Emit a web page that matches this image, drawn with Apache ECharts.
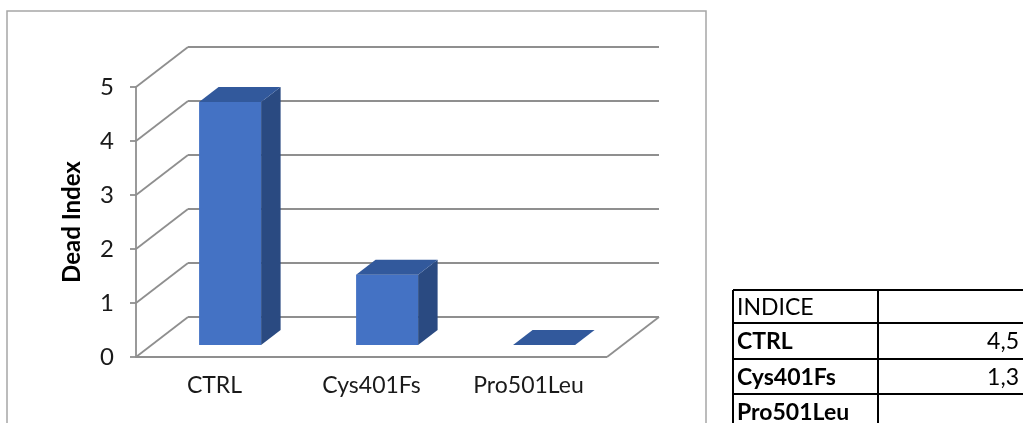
<!DOCTYPE html>
<html>
<head>
<meta charset="utf-8">
<script src="https://cdn.jsdelivr.net/npm/echarts@6/dist/echarts.min.js"></script>
<style>
  html, body { margin: 0; padding: 0; background: #fff; }
  #chart { width: 1023px; height: 423px; }
</style>
</head>
<body>
<div id="chart"></div>
<script>
// Dead Index per variant
const categories = ['CTRL', 'Cys401Fs', 'Pro501Leu'];
const deadIndex = [4.5, 1.3, 0];
const yTicks = [0, 1, 2, 3, 4, 5];
const tableHeader = 'INDICE';
const axisTitle = 'Dead Index';

const FONT = 'Lato, "Open Sans", sans-serif';
const GRID_COLOR = '#8F8F8F';
// oblique depth of the 3D box (pixels)
const DX = 52, DY = -40;
const BAR_FRONT = 0.3, BAR_BACK = 0.675, BAR_WIDTH = 0.395;

const chart = echarts.init(document.getElementById('chart'), null, { renderer: 'canvas' });

function wallItem(params, api) {
  const cs = params.coordSys;
  const left = cs.x, right = cs.x + cs.width;
  const v = api.value(1);
  const y = api.coord([0, v])[1];
  const st = { stroke: GRID_COLOR, lineWidth: 1.8, fill: null };
  const kids = [
    { type: 'line', shape: { x1: left, y1: y, x2: left + DX, y2: y + DY }, style: st },
    { type: 'line', shape: { x1: left + DX, y1: y + DY, x2: right + DX, y2: y + DY }, style: st }
  ];
  if (v === 0) {
    kids.push({ type: 'line', shape: { x1: left, y1: y, x2: right, y2: y }, style: st });
    kids.push({ type: 'line', shape: { x1: right, y1: y, x2: right + DX, y2: y + DY }, style: st });
  }
  return { type: 'group', children: kids };
}

function barItem(params, api) {
  const idx = api.value(0);
  const val = api.value(1);
  const base = api.coord([idx, 0]);
  const top = api.coord([idx, val]);
  const band = api.size([1, 0])[0];
  const w = band * BAR_WIDTH;
  const fx = base[0] - w / 2 + BAR_FRONT * DX;
  const fyB = base[1] + BAR_FRONT * DY;
  const fyT = top[1] + BAR_FRONT * DY;
  const ddx = (BAR_BACK - BAR_FRONT) * DX;
  const ddy = (BAR_BACK - BAR_FRONT) * DY;
  const kids = [];
  if (fyB - fyT > 0.5) {
    kids.push({ type: 'rect', shape: { x: fx, y: fyT, width: w, height: fyB - fyT },
      style: { fill: '#4472C4' } });
    kids.push({ type: 'polygon', shape: { points: [
      [fx + w, fyT], [fx + w + ddx, fyT + ddy], [fx + w + ddx, fyB + ddy], [fx + w, fyB]] },
      style: { fill: '#2A4A81' } });
  }
  kids.push({ type: 'polygon', shape: { points: [
    [fx, fyT], [fx + w, fyT], [fx + w + ddx, fyT + ddy], [fx + ddx, fyT + ddy]] },
    style: { fill: '#32599C' } });
  return { type: 'group', children: kids };
}

// side table
const T_LEFT = 733, T_MID = 878, T_RIGHT = 1060;
const rowTops = [290, 323, 359, 394, 429];
const fmt = v => (v ? String(v).replace('.', ',') : '');
const tableRows = [[tableHeader, '', false]].concat(
  categories.map((c, i) => [c, fmt(deadIndex[i]), true]));
const tableEls = [];
rowTops.forEach(y => tableEls.push({ type: 'line',
  shape: { x1: T_LEFT, y1: y, x2: T_RIGHT, y2: y }, style: { stroke: '#000', lineWidth: 2 } }));
[T_LEFT, T_MID].forEach(x => tableEls.push({ type: 'line',
  shape: { x1: x, y1: rowTops[0], x2: x, y2: 440 }, style: { stroke: '#000', lineWidth: 2 } }));
tableRows.forEach((r, i) => {
  const cy = (rowTops[i] + rowTops[i + 1]) / 2 + 1;
  tableEls.push({ type: 'text', x: T_LEFT + 4, y: cy, style: {
    text: r[0], font: (r[2] ? 'bold ' : '') + '23px ' + FONT, fill: '#000',
    verticalAlign: 'middle', align: 'left' } });
  if (r[1]) tableEls.push({ type: 'text', x: 1019, y: cy, style: {
    text: r[1], font: '23px ' + FONT, fill: '#000', verticalAlign: 'middle', align: 'right' } });
});

chart.setOption({
  animation: false,
  backgroundColor: '#fff',
  grid: { left: 136, right: 416, top: 87, bottom: 66, containLabel: false },
  xAxis: {
    type: 'category', data: categories,
    axisLine: { show: false }, axisTick: { show: false }, splitLine: { show: false },
    axisLabel: { margin: 17, fontSize: 23, fontFamily: FONT, color: '#1a1a1a' }
  },
  yAxis: {
    type: 'value', min: 0, max: 5, interval: 1,
    name: axisTitle, nameLocation: 'middle', nameGap: 52, nameRotate: 90,
    nameTextStyle: { fontSize: 24, fontWeight: 'bold', fontFamily: FONT, color: '#000' },
    axisLine: { show: true, lineStyle: { color: GRID_COLOR, width: 1.8 } },
    axisTick: { show: true, length: 6, lineStyle: { color: GRID_COLOR, width: 1.8 } },
    splitLine: { show: false },
    axisLabel: { margin: 22, fontSize: 24, fontFamily: FONT, color: '#1a1a1a' }
  },
  graphic: [
    { type: 'rect', shape: { x: 7, y: 11, width: 699, height: 440 },
      style: { fill: null, stroke: '#A6A6A6', lineWidth: 1.5 }, z: -1 },
    { type: 'group', children: tableEls }
  ],
  series: [
    { type: 'custom', name: 'walls', renderItem: wallItem, clip: false, z: 1,
      data: yTicks.map(v => [0, v]) },
    { type: 'custom', name: axisTitle, renderItem: barItem, clip: false, z: 3,
      data: deadIndex.map((v, i) => [i, v]) }
  ]
});
</script>
</body>
</html>
